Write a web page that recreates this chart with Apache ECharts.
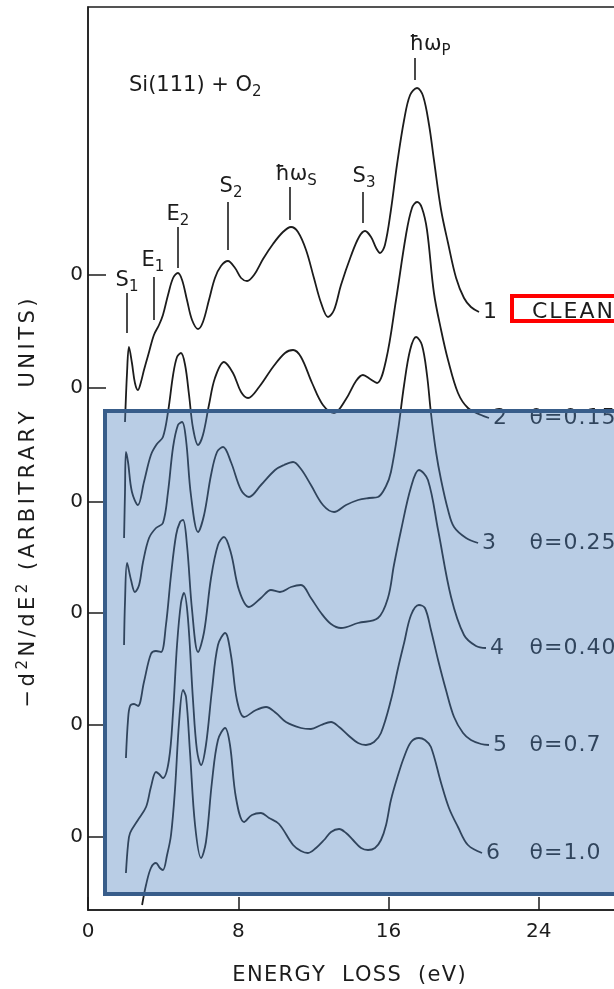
<!DOCTYPE html>
<html>
<head>
<meta charset="utf-8">
<title>Si(111) + O2 energy loss spectra</title>
<script src="https://cdn.jsdelivr.net/npm/echarts@6.0.0/dist/echarts.min.js"></script>
<style>
html, body { margin: 0; padding: 0; background: #fff; }
#chart { width: 614px; height: 989px; }
</style>
</head>
<body>
<div id="chart"></div>
<script>
// zero level of each spectrum on the (arbitrary) vertical axis, curves 1..6
var zeroLevels = [635, 522, 408, 297, 185, 73];
var curveNumbers = ['1', '2', '3', '4', '5', '6'];
var coverage = ['CLEAN', 'θ=0.15', 'θ=0.25', 'θ=0.40', 'θ=0.7', 'θ=1.0'];

// [energy loss (eV), -d2N/dE2 measured from the curve's own zero]
var clean = [[1.97,-147],[2.08,-97],[2.18,-72],[2.34,-88],[2.50,-108],[2.66,-115],[2.82,-107],[2.98,-95],[3.25,-77],[3.51,-60],[3.78,-50],[3.99,-40],[4.26,-20],[4.53,-3],[4.79,2],[5.01,-5],[5.27,-25],[5.54,-45],[5.86,-54],[6.12,-47],[6.44,-25],[6.76,-3],[7.08,9],[7.45,14],[7.83,7],[8.15,-3],[8.47,-6],[8.84,0],[9.32,16],[9.85,31],[10.38,43],[10.81,48],[11.18,43],[11.61,25],[12.03,-3],[12.41,-28],[12.78,-42],[13.10,-35],[13.47,-10],[14.00,19],[14.43,38],[14.75,44],[15.07,38],[15.34,27],[15.55,22],[15.81,30],[16.13,65],[16.45,110],[16.83,155],[17.15,180],[17.52,187],[17.84,179],[18.16,150],[18.42,115],[18.80,65],[19.17,32],[19.60,-3],[20.02,-23],[20.39,-32],[20.82,-37]];
var theta015 = [[1.92,-150],[1.97,-104],[2.02,-64],[2.13,-74],[2.34,-104],[2.66,-117],[2.98,-94],[3.35,-67],[3.67,-56],[3.99,-49],[4.26,-24],[4.53,13],[4.74,31],[4.95,35],[5.17,23],[5.38,-7],[5.59,-40],[5.86,-57],[6.12,-47],[6.44,-17],[6.76,10],[7.24,26],[7.72,15],[8.15,-4],[8.52,-10],[9.11,1],[9.85,21],[10.49,35],[10.92,38],[11.34,31],[11.93,5],[12.51,-17],[13.10,-25],[13.74,-11],[14.27,7],[14.64,13],[15.02,9],[15.39,5],[15.87,28],[16.40,88],[16.93,153],[17.25,180],[17.52,186],[17.78,180],[18.05,158],[18.42,95],[18.80,58],[19.17,28],[19.70,-5],[20.23,-20],[20.93,-27],[21.35,-30]];
var theta025 = [[1.92,-143],[1.97,-100],[2.08,-61],[2.29,-78],[2.50,-90],[2.72,-83],[2.93,-60],[3.25,-36],[3.62,-26],[3.99,-21],[4.26,10],[4.53,55],[4.79,77],[5.01,80],[5.22,62],[5.48,7],[5.86,-30],[6.18,-13],[6.55,27],[6.87,50],[7.19,55],[7.61,40],[8.15,12],[8.57,5],[9.21,17],[9.96,32],[10.44,37],[10.92,40],[11.34,33],[11.87,17],[12.51,-3],[13.10,-10],[13.74,-3],[14.38,2],[14.96,4],[15.44,5],[15.87,16],[16.13,30],[16.51,72],[16.83,117],[17.15,152],[17.47,165],[17.78,157],[18.05,127],[18.26,89],[18.53,50],[18.80,22],[19.17,-8],[19.49,-25],[20.13,-36],[20.77,-41]];
var theta040 = [[2.02,-145],[2.13,-107],[2.24,-93],[2.45,-91],[2.66,-93],[2.98,-69],[3.35,-41],[3.62,-38],[3.89,-39],[4.15,-12],[4.42,38],[4.69,78],[4.90,91],[5.06,93],[5.27,68],[5.54,3],[5.86,-39],[6.18,-19],[6.55,35],[6.92,68],[7.24,76],[7.61,60],[8.04,23],[8.57,6],[9.21,15],[9.74,23],[10.22,21],[10.81,26],[11.34,28],[11.87,15],[12.41,0],[12.94,-11],[13.47,-15],[14.38,-10],[15.44,-5],[15.97,15],[16.29,48],[16.67,83],[17.20,126],[17.62,143],[18.10,133],[18.64,83],[19.33,16],[20.02,-22],[20.66,-33],[21.19,-35]];
var theta07 = [[2.02,-148],[2.13,-120],[2.24,-108],[2.66,-95],[3.09,-82],[3.35,-62],[3.62,-47],[3.78,-49],[3.99,-53],[4.31,-35],[4.53,13],[4.74,80],[4.95,122],[5.11,132],[5.32,107],[5.59,25],[5.80,-25],[6.02,-40],[6.28,-20],[6.60,35],[6.92,80],[7.30,92],[7.61,70],[7.93,25],[8.31,8],[8.95,15],[9.48,18],[10.01,12],[10.54,3],[11.34,-3],[11.87,-4],[12.41,0],[12.94,3],[13.37,-2],[13.84,-10],[14.38,-18],[14.80,-20],[15.23,-17],[15.60,-8],[16.13,25],[16.51,57],[16.83,82],[17.20,110],[17.62,120],[17.94,117],[18.26,95],[18.64,65],[19.06,35],[19.49,8],[19.97,-8],[20.39,-15],[20.93,-19],[21.35,-20]];
var theta10 = [[2.88,-68],[3.09,-48],[3.35,-31],[3.62,-26],[3.83,-31],[3.99,-33],[4.21,-18],[4.42,2],[4.63,47],[4.85,115],[5.06,147],[5.22,140],[5.43,85],[5.70,12],[6.02,-21],[6.28,-5],[6.60,55],[6.92,97],[7.30,109],[7.56,92],[7.88,39],[8.31,15],[8.73,22],[9.21,24],[9.64,19],[10.17,13],[10.92,-8],[11.34,-14],[11.71,-16],[12.14,-11],[12.57,-3],[12.94,5],[13.37,8],[13.74,4],[14.11,-3],[14.54,-11],[14.91,-13],[15.28,-11],[15.60,-3],[15.87,12],[16.13,37],[16.51,62],[16.83,80],[17.20,95],[17.62,99],[17.94,97],[18.26,90],[18.80,54],[19.22,29],[19.70,10],[20.23,-8],[20.98,-16]];

(function () {
    var spectra = [clean, theta015, theta025, theta040, theta07, theta10];
    var FONT = 'DejaVu Sans';
    var INK = '#1c1c1c';
    var chart = echarts.init(document.getElementById('chart'));

    var series = spectra.map(function (pts, i) {
        return {
            type: 'line',
            name: curveNumbers[i],
            data: pts.map(function (p) { return [p[0], p[1] + zeroLevels[i]]; }),
            smooth: 0.35,
            showSymbol: false,
            symbol: 'none',
            silent: true,
            z: 2,
            lineStyle: { color: INK, width: 1.8 },
            endLabel: {
                show: true,
                formatter: curveNumbers[i],
                color: INK,
                fontFamily: FONT,
                fontSize: 22,
                distance: 4
            }
        };
    });

    var option = {
        animation: false,
        backgroundColor: '#fff',
        grid: {
            left: 88, right: -75, top: 7, bottom: 79,
            outerBoundsMode: 'none',
            show: true, borderColor: INK, borderWidth: 1.5
        },
        xAxis: {
            type: 'value', min: 0, max: 32, interval: 8,
            axisLine: { lineStyle: { color: INK, width: 1.5 } },
            axisTick: { inside: true, length: 13, lineStyle: { color: INK, width: 1.5 } },
            axisLabel: { color: INK, fontFamily: FONT, fontSize: 20, margin: 12 },
            splitLine: { show: false }
        },
        yAxis: {
            type: 'value', min: 0, max: 903,
            axisLine: { show: true, lineStyle: { color: INK, width: 1.5 } },
            axisTick: { show: true, inside: true, length: 18, customValues: zeroLevels,
                lineStyle: { color: INK, width: 1.5 } },
            axisLabel: { customValues: zeroLevels, formatter: function () { return '0'; },
                color: INK, fontFamily: FONT, fontSize: 20, margin: 5 },
            splitLine: { show: false }
        },
        series: series
    };
    chart.setOption(option);

    // m = main text, s = subscript, p = superscript; gap = extra letter spacing
    function richStyles(size, gap) {
        var h = gap / 2;
        var small = Math.round(size * 0.72);
        return {
            m: { fontFamily: FONT, fontSize: size, fill: INK, padding: [0, h, 0, h] },
            s: { fontFamily: FONT, fontSize: small, fill: INK, padding: [12, h, 0, h] },
            p: { fontFamily: FONT, fontSize: small, fill: INK, padding: [0, h, 11, h] }
        };
    }
    function richText(parts, gap) {
        return parts.map(function (part) {
            var chars = gap ? part[1].split('') : [part[1]];
            return chars.map(function (c) { return '{' + part[0] + '|' + c + '}'; }).join('');
        }).join('');
    }
    function label(x, y, parts, size, opts) {
        opts = opts || {};
        var gap = opts.gap || 0;
        var align = opts.align || 'center';
        return {
            type: 'text', x: x, y: y, z: 10, rotation: opts.rotation || 0, silent: true,
            style: {
                text: richText(parts, gap), rich: richStyles(size, gap), fill: INK,
                fontFamily: FONT, fontSize: size,
                align: align, textAlign: align,
                verticalAlign: 'middle', textVerticalAlign: 'middle'
            }
        };
    }
    function stick(x, y1, y2) {
        return {
            type: 'line', z: 10, silent: true,
            shape: { x1: x, y1: y1, x2: x, y2: y2 },
            style: { stroke: INK, lineWidth: 1.6 }
        };
    }

    var graphics = [
        label(129, 86, [['m', 'Si(111) + O'], ['s', '2']], 21, { align: 'left' }),
        label(127, 281, [['m', 'S'], ['s', '1']], 21), stick(127, 293, 333),
        label(153, 261, [['m', 'E'], ['s', '1']], 21), stick(154, 277, 320),
        label(178, 215, [['m', 'E'], ['s', '2']], 21), stick(178, 227, 268),
        label(231, 187, [['m', 'S'], ['s', '2']], 21), stick(228, 202, 250),
        label(296, 175, [['m', 'ħω'], ['s', 'S']], 21), stick(290, 187, 220),
        label(364, 177, [['m', 'S'], ['s', '3']], 21), stick(363, 192, 223),
        label(430, 45, [['m', 'ħω'], ['s', 'P']], 21), stick(415, 58, 80),
        label(349, 976, [['m', 'ENERGY  LOSS  (eV)']], 21, { gap: 1.3 }),
        label(29, 503, [['m', '−d'], ['p', '2'], ['m', 'N/dE'], ['p', '2'], ['m', ' (ARBITRARY  UNITS)']], 21,
            { gap: 3.5, rotation: Math.PI / 2 })
    ];

    // coverage tags, aligned in one column at the height where each curve ends
    spectra.forEach(function (pts, i) {
        var last = pts[pts.length - 1];
        var pos = chart.convertToPixel({ gridIndex: 0 }, [last[0], last[1] + zeroLevels[i]]);
        graphics.push(label(i === 0 ? 531 : 529, pos[1], [['m', coverage[i]]], 22,
            { align: 'left', gap: i === 0 ? 2 : 1 }));
    });

    // highlight boxes laid over the figure
    graphics.push({
        type: 'rect', z: 100, silent: true,
        shape: { x: 105, y: 411, width: 560, height: 483 },
        style: { fill: 'rgba(79,129,189,0.4)', stroke: '#385D8A', lineWidth: 4 }
    });
    graphics.push({
        type: 'rect', z: 101, silent: true,
        shape: { x: 512, y: 296, width: 150, height: 25 },
        style: { fill: 'none', stroke: '#ff0000', lineWidth: 4 }
    });

    chart.setOption({ graphic: graphics });
    window.addEventListener('resize', function () { chart.resize(); });
})();
</script>
</body>
</html>
